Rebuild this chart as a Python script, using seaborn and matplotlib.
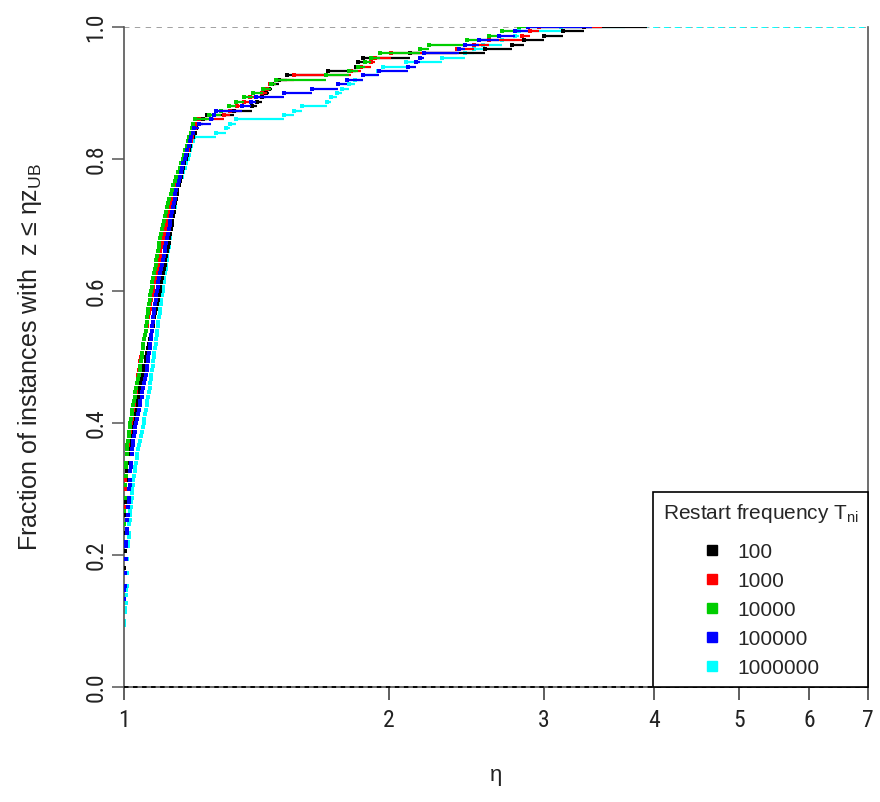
import numpy as np
import pandas as pd
import matplotlib
matplotlib.use("Agg")
import matplotlib.pyplot as plt
from matplotlib.lines import Line2D
from matplotlib import font_manager
import seaborn as sns

# ---------------- data (eta values per instance) ----------------
series_labels = ["100", "1000", "10000", "100000", "1000000"]
series_colors = ["#000000", "#FF0000", "#00CD00", "#0000FF", "#00FFFF"]

eta_100 = [
    1.0, 1.0, 1.0, 1.0, 1.0, 1.0, 1.0, 1.0, 1.0, 1.0, 1.0, 1.0, 1.0, 1.0, 1.0, 1.0, 1.0, 1.0, 1.0, 1.0, 1.0,
    1.000, 1.000, 1.001, 1.001, 1.001, 1.001, 1.002, 1.002, 1.002,
    1.002, 1.003, 1.003, 1.003, 1.003, 1.004, 1.004, 1.004, 1.004,
    1.005, 1.005, 1.005, 1.006, 1.006, 1.006,
    1.007, 1.007, 1.008, 1.008, 1.009, 1.009, 1.010, 1.010,
    1.012, 1.014, 1.016, 1.018, 1.020, 1.022, 1.024,
    1.026, 1.029, 1.031, 1.034, 1.036, 1.038, 1.041, 1.043, 1.046, 1.048, 1.050, 1.053,
    1.055, 1.058, 1.060, 1.063, 1.065, 1.068, 1.070, 1.073, 1.075, 1.078, 1.080, 1.083, 1.085, 1.088, 1.090, 1.093, 1.095, 1.098,
    1.100, 1.103, 1.105, 1.107, 1.110, 1.112, 1.114, 1.117, 1.119, 1.121, 1.124, 1.126, 1.128, 1.131, 1.133,
    1.135, 1.137, 1.139, 1.141, 1.144, 1.146, 1.148, 1.150,
    1.154, 1.157, 1.161, 1.164, 1.168, 1.171, 1.175,
    1.180, 1.184, 1.189, 1.193, 1.198, 1.203, 1.207, 1.212,
    1.228, 1.244, 1.334, 1.398, 1.416, 1.434, 1.450, 1.461, 1.473, 1.499, 1.530, 1.707, 1.836, 1.846, 1.870,
    2.115, 2.570, 2.760, 2.850, 3.000, 3.150, 3.330,
]

eta_1000 = [
    1.0, 1.0, 1.0, 1.0, 1.0, 1.0, 1.0, 1.0, 1.0, 1.0, 1.0, 1.0, 1.0, 1.0, 1.0, 1.0, 1.0, 1.0, 1.0, 1.0,
    1.0, 1.0, 1.0, 1.0, 1.0, 1.0, 1.0, 1.0, 1.0, 1.0, 1.0, 1.0, 1.0, 1.0, 1.0, 1.0, 1.0, 1.0, 1.0, 1.0,
    1.000, 1.001, 1.001, 1.002, 1.002, 1.003, 1.003, 1.004,
    1.005, 1.005, 1.006, 1.007, 1.007, 1.008,
    1.010, 1.011, 1.013, 1.015, 1.016, 1.018,
    1.020, 1.022, 1.024, 1.026, 1.027, 1.029, 1.031, 1.033, 1.035, 1.036, 1.038, 1.040,
    1.042, 1.044, 1.046, 1.048, 1.050, 1.052, 1.055, 1.057, 1.059, 1.061, 1.063, 1.065, 1.067, 1.069, 1.071, 1.073, 1.076, 1.078,
    1.080, 1.083, 1.085, 1.088, 1.090, 1.093, 1.095, 1.098, 1.100, 1.103, 1.105, 1.108, 1.110, 1.113, 1.115,
    1.118, 1.121, 1.125, 1.128, 1.131, 1.134, 1.138, 1.141,
    1.145, 1.150, 1.154, 1.159, 1.163, 1.168, 1.172,
    1.176, 1.181, 1.185, 1.190, 1.194, 1.199, 1.203, 1.208,
    1.218, 1.300, 1.320, 1.344, 1.370, 1.390, 1.434, 1.455, 1.465, 1.490, 1.560, 1.810, 1.860, 1.910, 1.930,
    2.010, 2.390, 2.500, 2.600, 2.830, 2.890, 2.960,
]

eta_10000 = [
    1.0, 1.0, 1.0, 1.0, 1.0, 1.0, 1.0, 1.0, 1.0, 1.0, 1.0, 1.0, 1.0, 1.0, 1.0, 1.0, 1.0, 1.0,
    1.0, 1.0, 1.0, 1.0, 1.0, 1.0, 1.0, 1.0, 1.0, 1.0, 1.0, 1.0, 1.0, 1.0, 1.0, 1.0, 1.0, 1.0,
    1.000, 1.001, 1.001, 1.001, 1.002, 1.002, 1.002, 1.003, 1.003, 1.003,
    1.004, 1.004, 1.005, 1.005, 1.006, 1.007, 1.007, 1.008,
    1.009, 1.011, 1.012, 1.013, 1.015, 1.016,
    1.018, 1.020, 1.022, 1.024, 1.026, 1.028, 1.030, 1.033, 1.035, 1.037, 1.040, 1.042,
    1.044, 1.045, 1.047, 1.049, 1.051, 1.052, 1.054, 1.056, 1.058, 1.059, 1.061, 1.063, 1.065, 1.066, 1.068, 1.070, 1.071, 1.073,
    1.075, 1.077, 1.080, 1.082, 1.084, 1.086, 1.088, 1.091, 1.093, 1.095, 1.097, 1.099, 1.102, 1.104, 1.106,
    1.109, 1.113, 1.116, 1.119, 1.123, 1.126, 1.130, 1.133,
    1.138, 1.143, 1.147, 1.152, 1.157, 1.161, 1.166,
    1.170, 1.174, 1.178, 1.182, 1.186, 1.190, 1.194, 1.198,
    1.203, 1.250, 1.290, 1.315, 1.340, 1.370, 1.400, 1.440, 1.470, 1.490, 1.694, 1.800, 1.846, 1.880, 1.910,
    1.954, 2.166, 2.223, 2.450, 2.600, 2.690, 2.810,
]

eta_100000 = [
    1.0, 1.0, 1.0, 1.0, 1.0, 1.0, 1.0, 1.0, 1.0, 1.0, 1.0, 1.0, 1.0, 1.0, 1.0, 1.0, 1.0, 1.0, 1.0, 1.0,
    1.001, 1.001, 1.002, 1.003,
    1.003, 1.003, 1.004, 1.004, 1.004, 1.005, 1.005, 1.005,
    1.006, 1.007, 1.007, 1.008, 1.009, 1.009, 1.010,
    1.011, 1.011, 1.012, 1.013, 1.014, 1.014, 1.015, 1.016,
    1.017, 1.017, 1.018, 1.019, 1.020, 1.020, 1.021,
    1.023, 1.025, 1.027, 1.028, 1.030, 1.032,
    1.034, 1.037, 1.039, 1.042, 1.044, 1.047, 1.049, 1.052, 1.054, 1.057, 1.059, 1.062,
    1.063, 1.065, 1.066, 1.068, 1.069, 1.071, 1.072, 1.074, 1.075, 1.077, 1.078, 1.080, 1.081, 1.083, 1.084, 1.086, 1.087, 1.089,
    1.092, 1.094, 1.097, 1.099, 1.102, 1.104, 1.107, 1.109, 1.112, 1.114, 1.117, 1.119, 1.122, 1.124, 1.127,
    1.129, 1.132, 1.134, 1.137, 1.139, 1.142, 1.144, 1.147,
    1.151, 1.154, 1.158, 1.161, 1.165, 1.168, 1.172,
    1.176, 1.180, 1.185, 1.189, 1.193, 1.198, 1.202,
    1.218, 1.257, 1.265, 1.273, 1.360, 1.394, 1.412, 1.518, 1.634, 1.752, 1.790, 1.870, 1.950, 2.100, 2.145,
    2.170, 2.190, 2.400, 2.440, 2.530, 2.670, 2.780, 2.880,
]

eta_1000000 = [
    1.0, 1.0, 1.0, 1.0, 1.0, 1.0, 1.0, 1.0, 1.0, 1.0, 1.0, 1.0, 1.0, 1.0,
    1.001, 1.002, 1.002, 1.003, 1.004, 1.005, 1.005, 1.006, 1.007, 1.008,
    1.008, 1.008, 1.009, 1.009, 1.009, 1.010, 1.010, 1.010,
    1.011, 1.012, 1.013, 1.014, 1.014, 1.015, 1.016,
    1.017, 1.018, 1.019, 1.020, 1.021, 1.022, 1.023, 1.024,
    1.026, 1.028, 1.030, 1.032, 1.034, 1.035, 1.037,
    1.040, 1.042, 1.045, 1.048, 1.050, 1.053,
    1.055, 1.057, 1.059, 1.061, 1.063, 1.065, 1.067, 1.069, 1.071, 1.072, 1.074, 1.076,
    1.078, 1.079, 1.081, 1.083, 1.084, 1.086, 1.088, 1.089, 1.091, 1.093, 1.094, 1.096, 1.098, 1.099, 1.101, 1.103, 1.104, 1.106,
    1.108, 1.110, 1.111, 1.113, 1.115, 1.117, 1.119, 1.120, 1.122, 1.124, 1.126, 1.128, 1.129, 1.131, 1.133,
    1.135, 1.137, 1.140, 1.142, 1.144, 1.146, 1.148, 1.150,
    1.155, 1.159, 1.164, 1.168, 1.172, 1.177, 1.181,
    1.185, 1.189, 1.193, 1.198, 1.202,
    1.273, 1.306, 1.320, 1.341, 1.518, 1.559, 1.592, 1.699, 1.720, 1.745, 1.770, 1.800, 1.830, 1.870, 1.944,
    1.970, 2.090, 2.300, 2.440, 2.500, 2.560, 2.690, 2.780, 2.810, 3.140,
]

series_values = [eta_100, eta_1000, eta_10000, eta_100000, eta_1000000]
x_ticks = [1, 2, 3, 4, 5, 6, 7]
y_ticks = [0.0, 0.2, 0.4, 0.6, 0.8, 1.0]
y_ticklabels = ["0.0", "0.2", "0.4", "0.6", "0.8", "1.0"]

# ---------------- style ----------------
sns.set_theme(style="white")
plt.rcParams["font.family"] = ["Liberation Sans", "DejaVu Sans"]
plt.rcParams["mathtext.fontset"] = "custom"
plt.rcParams["mathtext.rm"] = "Liberation Sans"
plt.rcParams["mathtext.it"] = "Liberation Sans"

installed = {f.name for f in font_manager.fontManager.ttflist}
narrow = [f for f in ["Liberation Sans Narrow", "Roboto Condensed", "Open Sans Condensed",
                      "DejaVu Sans Condensed", "Noto Sans Condensed"] if f in installed]
tick_family = narrow[:1] + ["Liberation Sans", "DejaVu Sans"]

W, H = 880, 802
fig = plt.figure(figsize=(W / 100, H / 100), dpi=100)
fig.patch.set_facecolor("white")
ax = fig.add_axes([124 / W, 1 - 687 / H, (868 - 124) / W, (687 - 27) / H])
ax.set_facecolor("white")

ax.set_xscale("log", base=2)
ax.set_xlim(1, 7)
ax.set_ylim(0, 1)

# reference lines at 0 and 1
ax.axhline(1.0, color="#9a9a9a", lw=1.3, ls=(0, (3, 3)), zorder=1)
ax.axhline(0.0, color="black", lw=1.3, ls=(0, (2.5, 2.5)), zorder=3, clip_on=False)
ax.hlines(1.0, max(eta_1000000), 7, colors=series_colors[4], lw=1.3,
          linestyles=[(3, (3, 3))], zorder=1.5)

EXT = 1.18  # extension of last step to the right (style)
draw_order = [4, 0, 1, 2, 3]
for z, i in enumerate(draw_order):
    vals = np.sort(np.asarray(series_values[i], dtype=float))
    n = len(vals)
    ux, counts = np.unique(vals, return_counts=True)
    F = np.cumsum(counts) / n
    x_end = np.append(ux[1:], ux[-1] * EXT)
    ax.hlines(F, ux, x_end, colors=series_colors[i], lw=1.6, zorder=2 + z)
    df = pd.DataFrame({"eta": ux, "F": F})
    sns.scatterplot(data=df, x="eta", y="F", color=series_colors[i], marker="s",
                    s=6.5, linewidth=0, ax=ax, zorder=2.5 + z, legend=False)

# axes / spines
ax.spines["top"].set_visible(False)
for side in ["left", "right", "bottom"]:
    ax.spines[side].set_color("#555555")
    ax.spines[side].set_linewidth(1.2)

tick_font = {"family": tick_family, "size": 17}
ax.set_xticks(x_ticks)
ax.set_xticklabels([str(t) for t in x_ticks], fontdict=tick_font)
ax.xaxis.set_minor_locator(matplotlib.ticker.NullLocator())
ax.set_yticks(y_ticks)
ax.set_yticklabels(y_ticklabels, fontdict=tick_font, rotation=90, va="center")
ax.tick_params(axis="x", which="major", direction="out", length=9, width=1.1,
               color="#333333", pad=7, bottom=True, labelcolor="#222222")
ax.tick_params(axis="y", which="major", direction="out", length=9, width=1.1,
               color="#555555", pad=3, left=True, labelcolor="#222222")

ax.set_xlabel("η", fontsize=16, color="#222222")
ax.xaxis.set_label_coords(0.5, (687 - 775) / 660)
ax.xaxis.label.set_verticalalignment("center")
ax.set_ylabel("Fraction of instances with  z ≤ ηz$_{\\mathregular{UB}}$", fontsize=18, color="#222222")
ax.yaxis.set_label_coords((30 - 124) / 744, 0.5)
ax.yaxis.label.set_verticalalignment("center")

handles = [Line2D([], [], marker="s", linestyle="", color=c, markersize=7)
           for c in series_colors]
leg = ax.legend(handles, series_labels, title="Restart frequency T$_{\\mathregular{ni}}$",
                loc="lower right", bbox_to_anchor=(1.0, 0.0), borderaxespad=0,
                frameon=True, fancybox=False, framealpha=1, edgecolor="black",
                fontsize=15, title_fontsize=15, handlelength=1.0, handletextpad=0.7,
                labelspacing=0.48, borderpad=0.45)
leg.get_frame().set_linewidth(1.2)
leg.set_zorder(20)
try:
    leg._legend_box.sep = 13
except Exception:
    pass

fig.savefig("out.png", dpi=100, facecolor="white")
